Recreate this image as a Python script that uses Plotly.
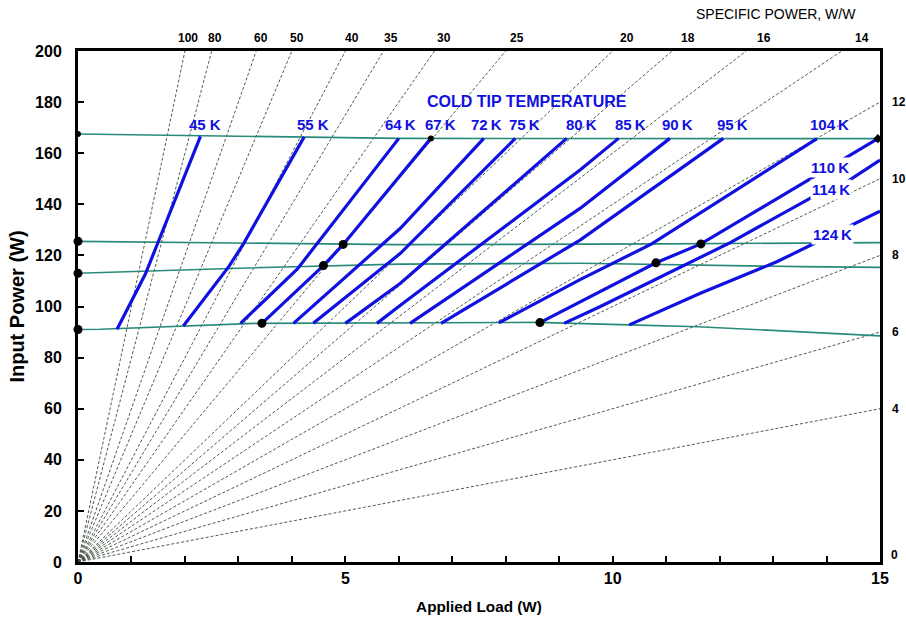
import plotly.graph_objects as go

# ---------------- data ----------------
specific_power = [100, 80, 60, 50, 40, 35, 30, 25, 20, 18, 16, 14, 12, 10, 8, 6, 4]
top_sp_labels = [100, 80, 60, 50, 40, 35, 30, 25, 20, 18, 16, 14]
right_sp_labels = [12, 10, 8, 6, 4]

# operating input-power lines (teal)
teal_top_x = [0, 3.3, 6.0, 15]
teal_top_y = [167.5, 166.5, 165.8, 165.7]
teal_2_x = [0, 6.0, 11.0, 15]
teal_2_y = [125.5, 124.2, 124.5, 125.0]
teal_3_x = [0, 2.85, 6.0, 9.4, 13.5, 15]
teal_3_y = [113.0, 114.9, 116.6, 116.9, 115.6, 115.3]
teal_bot_x = [0, 0.42, 3.3, 8.6, 10.3, 11.6, 15]
teal_bot_y = [91.0, 91.1, 93.4, 93.8, 92.8, 92.1, 88.5]

# cold tip temperature curves
temps = ["45 K", "55 K", "64\u2009K", "67\u2009K", "72\u2009K", "75\u2009K", "80\u2009K",
         "85\u2009K", "90\u2009K", "95\u2009K", "104\u2009K", "110\u2009K", "114\u2009K", "124\u2009K"]
curve_x = [
    [0.73, 1.26, 2.29],
    [1.97, 2.82, 3.10, 4.23],
    [3.04, 4.10, 6.00],
    [3.44, 4.59, 4.96, 6.60],
    [4.03, 5.00, 6.03, 7.59],
    [4.40, 6.03, 8.18],
    [5.00, 6.03, 9.14],
    [5.59, 6.03, 9.39, 10.11],
    [6.21, 9.39, 11.07],
    [6.79, 9.39, 12.07],
    [7.87, 9.39, 10.73, 13.82],
    [8.64, 10.81, 11.65, 14.96],
    [9.09, 9.77, 12.20, 13.75, 14.38, 15.0],
    [10.31, 11.64, 13.07, 15.0],
]
curve_y = [
    [91.1, 112.7, 166.6],
    [92.4, 115.6, 124.7, 166.4],
    [93.4, 114.6, 165.8],
    [93.4, 116.0, 124.3, 165.8],
    [93.4, 111.5, 130.6, 165.8],
    [93.4, 120.8, 165.8],
    [93.4, 109.1, 165.8],
    [93.4, 100.5, 153.4, 165.8],
    [93.4, 138.4, 165.8],
    [93.4, 126.0, 165.8],
    [93.6, 110.5, 124.5, 165.7],
    [93.7, 117.1, 124.5, 165.7],
    [93.4, 100.0, 125.0, 143.0, 148.8, 157.3],
    [92.8, 105.2, 117.5, 137.3],
]
label_x = [2.38, 4.40, 6.03, 6.78, 7.64, 8.36, 9.42, 10.33, 11.22, 12.25, 14.06, 14.06, 14.08, 14.12]
label_y = [171.4] * 11 + [154.5, 145.6, 128.0]

# operating points
dot_big_x = [0, 0, 0, 3.44, 4.59, 4.96, 8.64, 10.81, 11.65]
dot_big_y = [91.0, 113.0, 125.5, 93.4, 116.0, 124.3, 93.7, 117.1, 124.5]
dot_small_x = [0, 6.60]
dot_small_y = [167.5, 165.8]
diamond_x = [14.96]
diamond_y = [165.7]

x_ticks = list(range(0, 16))
x_ticktext = [str(v) if v % 5 == 0 else "" for v in x_ticks]
y_ticks = list(range(0, 201, 20))

X_MAX, Y_MAX = 15, 200
SP_LABEL_Y = 205.2   # top specific-power labels sit on the extension of each line

BLUE = "#1010e0"
TEAL = "#2a8a7a"

fig = go.Figure()

# radial specific-power lines
for sp in specific_power:
    xe = min(X_MAX, Y_MAX / sp)
    fig.add_trace(go.Scatter(x=[0, xe], y=[0, sp * xe], mode="lines",
                             line=dict(color="#3a4a3a", width=0.9, dash="3px,2px"),
                             hoverinfo="skip", showlegend=False))

for tx, ty in [(teal_top_x, teal_top_y), (teal_2_x, teal_2_y),
               (teal_3_x, teal_3_y), (teal_bot_x, teal_bot_y)]:
    fig.add_trace(go.Scatter(x=tx, y=ty, mode="lines",
                             line=dict(color=TEAL, width=1.6),
                             hoverinfo="skip", showlegend=False))

for name, cx, cy in zip(temps, curve_x, curve_y):
    fig.add_trace(go.Scatter(x=cx, y=cy, mode="lines", name=name,
                             line=dict(color=BLUE, width=3.2),
                             showlegend=False))

fig.add_trace(go.Scatter(x=dot_big_x, y=dot_big_y, mode="markers",
                         marker=dict(color="black", size=9), cliponaxis=False,
                         showlegend=False))
fig.add_trace(go.Scatter(x=dot_small_x, y=dot_small_y, mode="markers",
                         marker=dict(color="black", size=6), cliponaxis=False,
                         showlegend=False))
fig.add_trace(go.Scatter(x=diamond_x, y=diamond_y, mode="markers",
                         marker=dict(color="black", size=7, symbol="diamond"),
                         cliponaxis=False, showlegend=False))

ann = []
narrow = "Liberation Sans Narrow, Arial Narrow, Liberation Sans, Arial"
label_shift_px = (SP_LABEL_Y - Y_MAX) * 511 / Y_MAX
for sp in top_sp_labels:
    ann.append(dict(x=SP_LABEL_Y / sp, y=1, xref="x", yref="paper", text=str(sp),
                    showarrow=False, yanchor="middle", yshift=label_shift_px,
                    font=dict(family=narrow, size=12, color="black", weight="bold")))
for sp in right_sp_labels:
    ann.append(dict(x=X_MAX, y=sp * X_MAX, xref="x", yref="y", text=str(sp),
                    showarrow=False, xshift=10, xanchor="left",
                    font=dict(family=narrow, size=12, color="black", weight="bold")))
ann.append(dict(x=X_MAX, y=0, xref="x", yref="y", text="0", showarrow=False,
                xshift=9, yshift=7, xanchor="left",
                font=dict(family=narrow, size=12, color="black", weight="bold")))
ann.append(dict(x=0.870, y=1.072, xref="paper", yref="paper", text="SPECIFIC POWER, W/W",
                xanchor="center", yanchor="middle",
                showarrow=False, font=dict(family="Liberation Sans, Arial", size=14, color="black")))
ann.append(dict(x=8.4, y=180.4, xref="x", yref="y", text="COLD TIP TEMPERATURE",
                showarrow=False,
                font=dict(family="Liberation Sans, Arial", size=16, color=BLUE, weight="bold")))
for i, (t, lx, ly) in enumerate(zip(temps, label_x, label_y)):
    a = dict(x=lx, y=ly, xref="x", yref="y", text=t, showarrow=False,
             font=dict(family="Liberation Sans, Arial", size=15, color=BLUE, weight="bold"))
    if i >= 11:
        a.update(bgcolor="white", borderpad=1)
    ann.append(a)

fig.update_layout(
    width=906, height=619,
    margin=dict(l=77.5, r=26, t=51, b=57),
    paper_bgcolor="white", plot_bgcolor="white",
    annotations=ann,
    font=dict(family="Liberation Sans, Arial", color="black"),
)
fig.update_xaxes(range=[0, X_MAX], tickvals=x_ticks, ticktext=x_ticktext,
                 ticks="inside", ticklen=6, tickwidth=1.5, tickcolor="black",
                 showgrid=False, zeroline=False, automargin=False,
                 showline=True, linecolor="black", linewidth=3, mirror=True,
                 tickfont=dict(size=16, weight="bold"),
                 title=dict(text="Applied Load (W)", standoff=16,
                            font=dict(size=15.3, weight="bold")))
fig.update_yaxes(range=[0, Y_MAX], tickvals=y_ticks,
                 ticks="inside", ticklen=6, tickwidth=1.5, tickcolor="black",
                 showgrid=False, zeroline=False, ticklabelstandoff=10, automargin=False,
                 showline=True, linecolor="black", linewidth=3, mirror=True,
                 tickfont=dict(size=16, weight="bold"),
                 title=dict(text="Input Power (W)", standoff=6,
                            font=dict(size=20, weight="bold")))

fig.write_html("out.html", config={"displayModeBar": False},
               post_script="document.body.style.margin='0';document.body.style.overflow='hidden';")
